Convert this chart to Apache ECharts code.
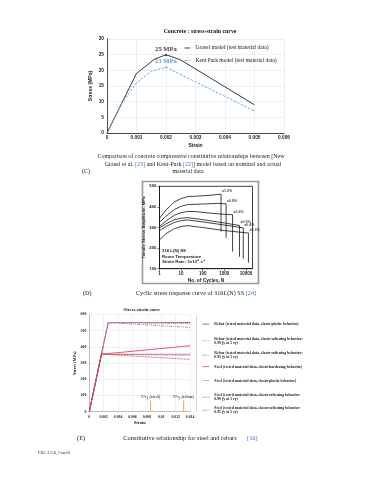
<!DOCTYPE html>
<html>
<head>
<meta charset="utf-8">
<script src="https://cdn.jsdelivr.net/npm/echarts@6/dist/echarts.min.js"></script>
<style>
  html, body { margin: 0; padding: 0; background: #fff; }
  #chart { width: 375px; height: 480px; }
</style>
</head>
<body>
<div id="chart"></div>
<script>
// (C) concrete stress-strain, strain / MPa
let grasel = [[0, 0], [0.001, 19], [0.0016, 23.5], [0.002, 25], [0.0025, 23.3], [0.005, 9]]
let kentPark = [[0, 0], [0.0005, 9.5], [0.001, 16], [0.0015, 19.7], [0.002, 21], [0.005, 7]]
let graselPeak = [[0.002, 25]]
let kentPeak = [[0.002, 21]]

// (D) cyclic stress response, cycles / MPa
let amp10 = [[1, 345], [2, 385], [5, 425], [10, 440], [20, 450], [50, 452], [200, 456], [700, 462], [700, 280]]
let amp08 = [[1, 325], [2, 355], [5, 388], [10, 403], [20, 411], [100, 414], [500, 417], [1200, 415], [1200, 250]]
let amp06 = [[1, 305], [2, 332], [5, 360], [10, 372], [20, 378], [50, 377], [200, 370], [1000, 364], [2400, 362], [2400, 183]]
let amp05 = [[1, 298], [2, 318], [5, 338], [10, 345], [20, 348], [100, 338], [1000, 322], [5000, 310], [5000, 158]]
let amp04 = [[1, 285], [2, 305], [5, 325], [10, 333], [20, 337], [100, 327], [1000, 312], [7500, 298], [7500, 148]]
let amp03 = [[1, 240], [2, 270], [5, 295], [10, 305], [20, 309], [100, 300], [1000, 285], [13000, 273], [13000, 130]]
let ampKnees = [[700, 462], [1200, 415], [2400, 362], [5000, 310], [7500, 298], [13000, 273]]
let ampLabels = ['±1.0%', '±0.8%', '±0.6%', '±0.5%', '±0.4%', '±0.3%']

// (E) steel and rebar, strain / MPa
let rebarPlastic = [[0, 0], [0.00262, 550], [0.014, 550]]
let rebarSoft99 = [[0, 0], [0.00262, 550], [0.0131, 544.5], [0.014, 544]]
let rebarSoft95 = [[0, 0], [0.00262, 550], [0.0131, 522.5], [0.014, 520.5]]
let steelHard = [[0, 0], [0.00169, 355], [0.014, 407]]
let steelPlastic = [[0, 0], [0.00169, 355], [0.014, 355]]
let steelSoft99 = [[0, 0], [0.00169, 355], [0.0085, 351.5], [0.014, 348.6]]
let steelSoft95 = [[0, 0], [0.00169, 355], [0.0085, 337.3], [0.014, 323]]
let steelMark = [[0.0085, 0], [0.0085, 68]]
let rebarMark = [[0.0131, 0], [0.0131, 68]]

let serif = 'Liberation Serif'
let sans = 'Liberation Sans'
let blue = '#3a6fc4'

let eNames = [
  'Rebar (tested material data, elasto-plastic behavior)',
  'Rebar (tested material data, elasto-softening behavior:\n0.99 f_y at 5 ε_y)',
  'Rebar (tested material data, elasto-softening behavior:\n0.95 f_y at 5 ε_y)',
  'Steel (tested material data, elasto-hardening behavior)',
  'Steel (tested material data, elasto-plastic behavior)',
  'Steel (tested material data, elasto-softening behavior:\n0.99 f_y at 5 ε_y)',
  'Steel (tested material data, elasto-softening behavior:\n0.95 f_y at 5 ε_y)'
]
let eLegendTops = [317, 331.5, 346, 359.5, 373.5, 388, 401]

let chart = echarts.init(document.getElementById('chart'))

function lineSeries (name, data, xi, color, width, type) {
  return {
    name: name,
    type: 'line',
    xAxisIndex: xi,
    yAxisIndex: xi,
    data: data,
    symbol: 'none',
    animation: false,
    lineStyle: { color: color, width: width, type: type || 'solid' },
    itemStyle: { color: color }
  }
}

function pointLabels (data, xi, texts, color, font, pos, offset) {
  return {
    type: 'scatter',
    xAxisIndex: xi,
    yAxisIndex: xi,
    data: data,
    symbolSize: 0,
    animation: false,
    silent: true,
    label: {
      show: true,
      position: pos,
      offset: offset || [0, 0],
      distance: 1,
      color: color,
      fontFamily: font.family,
      fontSize: font.size,
      fontWeight: font.weight,
      formatter: (p) => texts[p.dataIndex],
      rich: font.rich
    }
  }
}

let eColors = ['#5c4c5c', '#e090b8', '#8a7a8a', '#d8344e', '#ee7a86', '#444', '#d0405e']
let eTypes = ['solid', [3, 1, 1, 1], [3, 1, 1, 1, 1, 1], 'solid', 'solid', [1, 1], [2, 1]]
let eData = [rebarPlastic, rebarSoft99, rebarSoft95, steelHard, steelPlastic, steelSoft99, steelSoft95]

let clearIcon = { color: 'rgba(0,0,0,0)', borderWidth: 0, borderColor: 'rgba(0,0,0,0)' }

let eLegends = eNames.map((n, i) => ({
  data: [n],
  orient: 'vertical',
  left: 197,
  top: eLegendTops[i],
  itemWidth: 7,
  itemHeight: 3,
  itemGap: 2,
  itemStyle: clearIcon,
  lineStyle: { width: 0.7 },
  textStyle: {
    fontFamily: serif, fontSize: 3.8, fontWeight: 'bold', color: '#222', lineHeight: 4.2,
    rich: { i: { fontFamily: serif, fontStyle: 'italic', fontSize: 3.8, fontWeight: 'bold' } }
  },
  formatter: (s) => s.replace('f_y', '{i|f}y').replace('ε_y', 'εy')
}))

let smallAxis = (size, font) => ({
  fontFamily: font, fontSize: size, fontWeight: 'bold', color: '#222'
})

let option = {
  animation: false,
  grid: [
    { left: 107, top: 39, width: 177, height: 94, show: false },
    { left: 159.5, top: 186.3, width: 93, height: 82.4, show: true, borderColor: '#111', borderWidth: 0.8 },
    { left: 89.3, top: 314.5, width: 100.8, height: 97.2, show: false }
  ],
  xAxis: [
    {
      gridIndex: 0, type: 'value', min: 0, max: 0.006, interval: 0.001,
      name: 'Strain', nameLocation: 'middle', nameGap: 10,
      nameTextStyle: smallAxis(5, sans),
      axisLine: { lineStyle: { color: '#222', width: 0.8 } },
      axisTick: { show: false },
      axisLabel: Object.assign({ margin: 2 }, smallAxis(4.8, sans)),
      splitLine: { lineStyle: { color: '#e4e4e4', width: 0.6 } }
    },
    {
      gridIndex: 1, type: 'log', logBase: 10, min: 1, max: 20000,
      name: 'No. of Cycles, N', nameLocation: 'middle', nameGap: 9,
      nameTextStyle: smallAxis(4.8, sans),
      axisLine: { lineStyle: { color: '#111', width: 0.8 } },
      axisTick: { show: true, length: 2, lineStyle: { color: '#111', width: 0.6 } },
      axisLabel: Object.assign({ margin: 3, showMaxLabel: false, formatter: (v) => String(Math.round(v)) }, smallAxis(4.5, sans)),
      splitLine: { show: false }
    },
    {
      gridIndex: 2, type: 'value', min: 0, max: 0.014, interval: 0.002,
      name: 'Strain', nameLocation: 'middle', nameGap: 9,
      nameTextStyle: smallAxis(4.5, serif),
      axisLine: { lineStyle: { color: '#999', width: 0.6 } },
      axisTick: { show: false },
      axisLabel: Object.assign({ margin: 3 }, smallAxis(3.8, serif)),
      splitLine: { lineStyle: { color: '#e2e2e2', width: 0.5 } }
    }
  ],
  yAxis: [
    {
      gridIndex: 0, type: 'value', min: 0, max: 30, interval: 5,
      name: 'Stress (MPa)', nameLocation: 'middle', nameGap: 14,
      nameTextStyle: smallAxis(5, sans),
      axisLine: { show: true, lineStyle: { color: '#222', width: 0.8 } },
      axisTick: { show: false },
      axisLabel: Object.assign({ margin: 3 }, smallAxis(4.8, sans)),
      splitLine: { lineStyle: { color: '#e4e4e4', width: 0.6 } }
    },
    {
      gridIndex: 1, type: 'value', min: 100, max: 500, interval: 100,
      name: 'Tensile Stress Amplitude, MPa', nameLocation: 'middle', nameGap: 11,
      nameTextStyle: smallAxis(4.3, sans),
      axisLine: { show: true, lineStyle: { color: '#111', width: 0.8 } },
      axisTick: { show: true, length: 2, lineStyle: { color: '#111', width: 0.6 } },
      axisLabel: Object.assign({ margin: 3 }, smallAxis(4.3, sans)),
      splitLine: { show: false }
    },
    {
      gridIndex: 2, type: 'value', min: 0, max: 600, interval: 100,
      name: 'Stress (MPa)', nameLocation: 'middle', nameGap: 12,
      nameTextStyle: smallAxis(4.3, serif),
      axisLine: { show: true, lineStyle: { color: '#999', width: 0.6 } },
      axisTick: { show: false },
      axisLabel: Object.assign({ margin: 3 }, smallAxis(3.8, serif)),
      splitLine: { lineStyle: { color: '#e2e2e2', width: 0.5 } }
    }
  ],
  legend: [
    {
      data: ['Grasel model (test material data)', 'Kent Park model (test material data)'],
      orient: 'vertical',
      left: 179,
      top: 40,
      itemWidth: 6,
      itemHeight: 4,
      itemGap: 6.5,
      itemStyle: clearIcon,
      lineStyle: { width: 0.8 },
      textStyle: { fontFamily: serif, fontSize: 5.6, color: '#222' }
    }
  ].concat(eLegends),
  graphic: [
    { type: 'text', style: { text: 'Concrete : stress-strain curve', x: 200, y: 32, textAlign: 'center', textVerticalAlign: 'middle', fontFamily: serif, fontSize: 5.8, fontWeight: 'bold', fill: '#111' } },
    { type: 'text', style: { text: 'Comparison of concrete compressive constitutive relationships between [New', x: 191, y: 156, textAlign: 'center', textVerticalAlign: 'middle', fontFamily: serif, fontSize: 6, fill: '#222' } },
    {
      type: 'text',
      style: {
        text: '{n|Grasel et al. }{b|[23]}{n| and Kent-Park }{b|[22]}{n|] model based on nominal and actual}',
        x: 193, y: 164, textAlign: 'center', textVerticalAlign: 'middle',
        rich: {
          n: { fontFamily: serif, fontSize: 6, fill: '#222' },
          b: { fontFamily: serif, fontSize: 6, fill: blue }
        }
      }
    },
    { type: 'text', style: { text: 'material data', x: 188, y: 171.5, textAlign: 'center', textVerticalAlign: 'middle', fontFamily: serif, fontSize: 6, fill: '#222' } },
    { type: 'text', style: { text: '(C)', x: 82, y: 171.5, textVerticalAlign: 'middle', fontFamily: serif, fontSize: 6, fill: '#222' } },
    { type: 'rect', shape: { x: 142.5, y: 181.5, width: 116, height: 102 }, style: { fill: 'none', stroke: '#9a9a9a', lineWidth: 1.6 } },
    { type: 'text', style: { text: '316 L(N) SS', x: 162, y: 251, textVerticalAlign: 'middle', fontFamily: sans, fontSize: 4.3, fontWeight: 'bold', fill: '#222' } },
    { type: 'text', style: { text: 'Room Temperature', x: 162, y: 256.7, textVerticalAlign: 'middle', fontFamily: sans, fontSize: 4.3, fontWeight: 'bold', fill: '#222' } },
    { type: 'text', style: { text: 'Strain Rate: 3x10⁻³ s⁻¹', x: 162, y: 262.3, textVerticalAlign: 'middle', fontFamily: sans, fontSize: 4.3, fontWeight: 'bold', fill: '#222' } },
    {
      type: 'text',
      style: {
        text: '{n|Cyclic stress response curve of 316L(N) SS }{b|[24]}',
        x: 196, y: 293.3, textAlign: 'center', textVerticalAlign: 'middle',
        rich: {
          n: { fontFamily: serif, fontSize: 6.2, fill: '#222' },
          b: { fontFamily: serif, fontSize: 6.2, fill: blue }
        }
      }
    },
    { type: 'text', style: { text: '(D)', x: 83, y: 293.3, textVerticalAlign: 'middle', fontFamily: serif, fontSize: 6.2, fill: '#222' } },
    { type: 'text', style: { text: 'Stress-strain curve', x: 142, y: 310, textAlign: 'center', textVerticalAlign: 'middle', fontFamily: serif, fontSize: 4.6, fontWeight: 'bold', fill: '#222' } },
    { type: 'line', shape: { x1: 196.5, y1: 315, x2: 196.5, y2: 412 }, style: { stroke: '#bbb', lineWidth: 0.6 } },
    { type: 'text', style: { text: 'Constitutive relationship for steel and rebars', x: 180, y: 438.3, textAlign: 'center', textVerticalAlign: 'middle', fontFamily: serif, fontSize: 6.4, fill: '#222' } },
    { type: 'text', style: { text: '[16]', x: 247, y: 438.3, textVerticalAlign: 'middle', fontFamily: serif, fontSize: 6.4, fill: blue } },
    { type: 'text', style: { text: '(E)', x: 77, y: 438.3, textVerticalAlign: 'middle', fontFamily: serif, fontSize: 6.4, fill: '#222' } },
    { type: 'text', style: { text: 'FIG. 3.3.6, Cont\'d', x: 38, y: 453.3, textVerticalAlign: 'middle', fontFamily: serif, fontSize: 4.4, fill: '#222' } }
  ],
  series: [
    lineSeries('Grasel model (test material data)', grasel, 0, '#222', 0.9),
    lineSeries('Kent Park model (test material data)', kentPark, 0, '#5aa2d8', 0.9, [2.5, 1.5]),
    Object.assign(pointLabels(graselPeak, 0, ['25 MPa'], '#111', { family: serif, size: 6.6, weight: 'bold' }, 'top'), { symbol: 'triangle', symbolSize: 2.5, itemStyle: { color: '#222' } }),
    Object.assign(pointLabels(kentPeak, 0, ['21 MPa'], '#3a86c8', { family: serif, size: 6.6, weight: 'bold' }, 'top'), { symbol: 'circle', symbolSize: 2, itemStyle: { color: '#5aa2d8' } }),
    lineSeries('d10', amp10, 1, '#111', 0.8),
    lineSeries('d08', amp08, 1, '#111', 0.8),
    lineSeries('d06', amp06, 1, '#111', 0.8),
    lineSeries('d05', amp05, 1, '#111', 0.8),
    lineSeries('d04', amp04, 1, '#111', 0.8),
    lineSeries('d03', amp03, 1, '#111', 0.8),
    pointLabels(ampKnees, 1, ampLabels, '#222', { family: sans, size: 3.6, weight: 'bold' }, 'right', [0, -3])
  ].concat(eData.map((d, i) => lineSeries(eNames[i], d, 2, eColors[i], i === 1 ? 1.2 : 0.8, eTypes[i])))
    .concat([
      lineSeries('m1', steelMark, 2, '#e8a04a', 0.9),
      lineSeries('m2', rebarMark, 2, '#e8a04a', 0.9),
      pointLabels([steelMark[1], rebarMark[1]], 2, ['{a|5*ε}{s|y}{a| (steel)}', '{a|5*ε}{s|y}{a| (rebar)}'], '#222',
        { family: serif, size: 4, weight: 'bold', rich: { a: { fontFamily: serif, fontSize: 4.2, fontWeight: 'bold' }, s: { fontFamily: serif, fontSize: 3, fontWeight: 'bold', padding: [3, 0, 0, 0] } } }, 'top')
    ])
}

chart.setOption(option)
</script>
</body>
</html>
